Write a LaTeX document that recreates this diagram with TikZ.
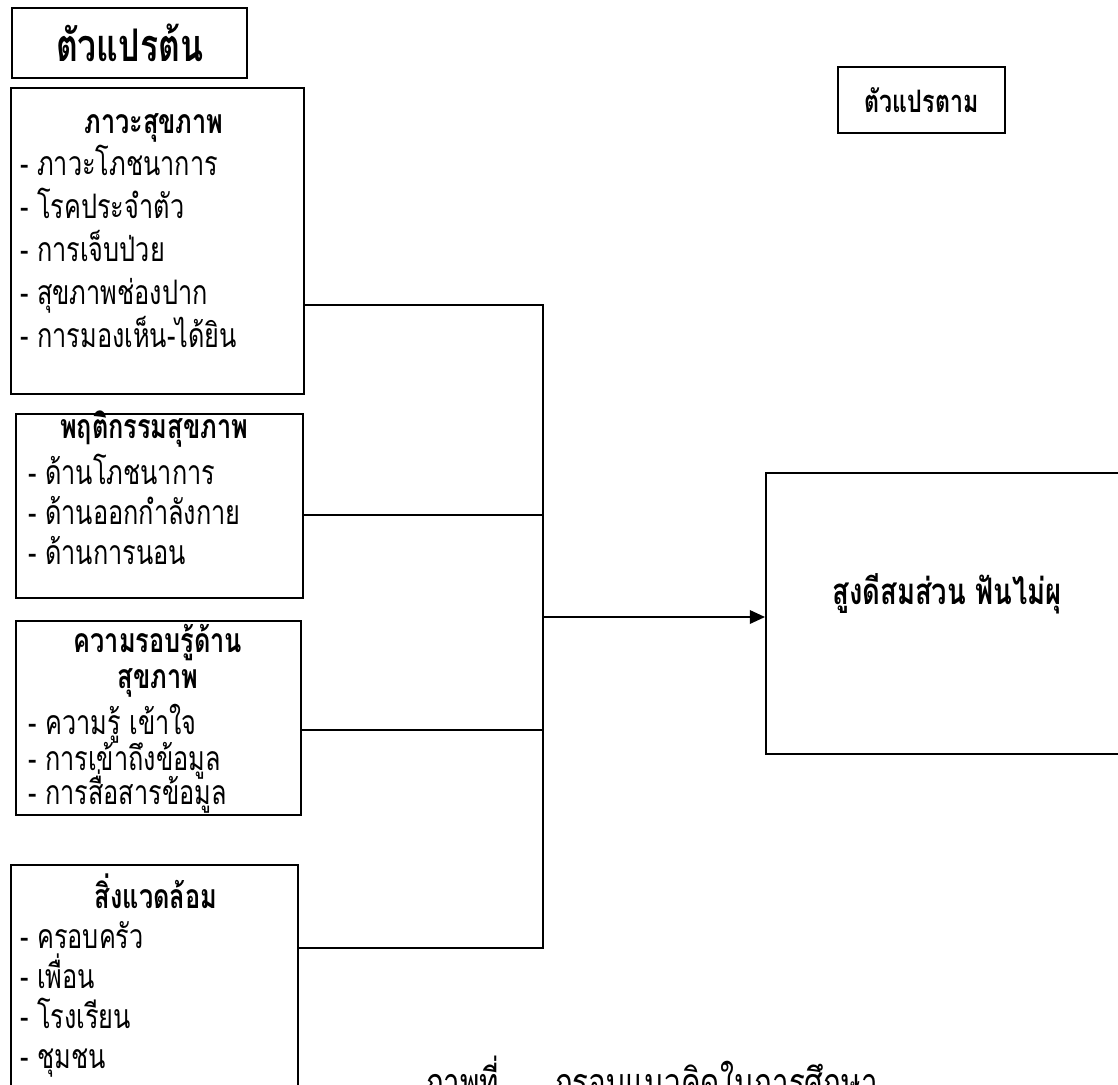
\documentclass[tikz,border=0pt]{standalone}
\usepackage{fontspec}
\newfontfamily\thaifont[Script=Thai, FakeStretch=0.75]{Loma}
\usetikzlibrary{arrows.meta}

\tikzset{
	box/.style={draw, line width=1.2pt, inner sep=0pt},
	titletxt/.style={font=\thaifont\bfseries\fontsize{24}{28}\selectfont, inner sep=0pt, anchor=base},
	itemtxt/.style={font=\thaifont\fontsize{24}{28}\selectfont, inner sep=0pt, anchor=base west},
	link/.style={line width=1.2pt},
}

\begin{document}
\begin{tikzpicture}
			\path[use as bounding box] (0,0) rectangle (27.95,-27.1);
			\clip (0,0) rectangle (27.95,-27.1);
			\node[box, font=\thaifont\bfseries\fontsize{32}{36}\selectfont, minimum width=5.875cm, minimum height=1.75cm] (ivar) at (3.24,-1.075) {ตัวแปรต้น};
			\node[box, font=\thaifont\bfseries\fontsize{22}{26}\selectfont, minimum width=4.175cm, minimum height=1.65cm] (dvar) at (23.04,-2.5) {ตัวแปรตาม};
			\node[box, anchor=north west, minimum width=7.325cm, minimum height=7.65cm] (health) at (0.25,-2.175) {};
			\node[box, anchor=north west, minimum width=7.175cm, minimum height=4.6cm] (behav) at (0.375,-10.325) {};
			\node[box, anchor=north west, minimum width=7.125cm, minimum height=4.85cm] (liter) at (0.375,-15.5) {};
			\node[box, anchor=north west, minimum width=7.175cm, minimum height=6.5cm] (envir) at (0.25,-21.6) {};
			\node[box, anchor=north west, minimum width=9.1cm, minimum height=7.025cm] (out) at (19.125,-11.8) {};
			\node[font=\thaifont\bfseries\fontsize{26}{30}\selectfont, anchor=base] (outtxt) at (23.675,-15.1) {สูงดีสมส่วน ฟันไม่ผุ};
			\node[titletxt] (healtht) at (3.85,-3.325) {ภาวะสุขภาพ};
			\node[itemtxt] (health1) at (0.5,-4.375) {- ภาวะโภชนาการ};
			\node[itemtxt] (health2) at (0.5,-5.45) {- โรคประจำตัว};
			\node[itemtxt] (health3) at (0.5,-6.525) {- การเจ็บป่วย};
			\node[itemtxt] (health4) at (0.5,-7.6) {- สุขภาพช่องปาก};
			\node[itemtxt] (health5) at (0.5,-8.675) {- การมองเห็น-ได้ยิน};
			\node[titletxt] (behavt) at (3.85,-10.95) {พฤติกรรมสุขภาพ};
			\node[itemtxt] (behav1) at (0.7,-12.1) {- ด้านโภชนาการ};
			\node[itemtxt] (behav2) at (0.7,-13.1) {- ด้านออกกำลังกาย};
			\node[itemtxt] (behav3) at (0.7,-14.1) {- ด้านการนอน};
			\node[titletxt] (litert) at (3.95,-16.3) {ความรอบรู้ด้าน};
			\node[titletxt] (litert2) at (3.95,-17.2) {สุขภาพ};
			\node[itemtxt] (liter1) at (0.7,-18.35) {- ความรู้ เข้าใจ};
			\node[itemtxt] (liter2) at (0.7,-19.25) {- การเข้าถึงข้อมูล};
			\node[itemtxt] (liter3) at (0.7,-20.1) {- การสื่อสารข้อมูล};
			\node[titletxt] (envirt) at (3.9,-22.7) {สิ่งแวดล้อม};
			\node[itemtxt] (envir1) at (0.5,-23.7) {- ครอบครัว};
			\node[itemtxt] (envir2) at (0.5,-24.7) {- เพื่อน};
			\node[itemtxt] (envir3) at (0.5,-25.7) {- โรงเรียน};
			\node[itemtxt] (envir4) at (0.5,-26.7) {- ชุมชน};
			\node[itemtxt, font=\thaifont\fontsize{28}{32}\selectfont] (caption) at (10.6,-27.4) {ภาพที่ \hspace{0.9cm} กรอบแนวคิดในการศึกษา};
			\coordinate (j1) at (13.575,-7.625);
			\coordinate (j2) at (13.575,-12.875);
			\coordinate (j3) at (13.575,-18.25);
			\coordinate (j4) at (13.575,-23.7);
			\coordinate (jo) at (13.575,-15.425);
			\draw[link] (health.east |- j1) -- (j1) -- (j4) -- (envir.east |- j4);
			\draw[link] (behav.east |- j2) -- (j2);
			\draw[link] (liter.east |- j3) -- (j3);
			\draw[link, -{Triangle[length=0.38cm, width=0.34cm]}] (jo) -- (out.west |- jo);
		\end{tikzpicture}
\end{document}
